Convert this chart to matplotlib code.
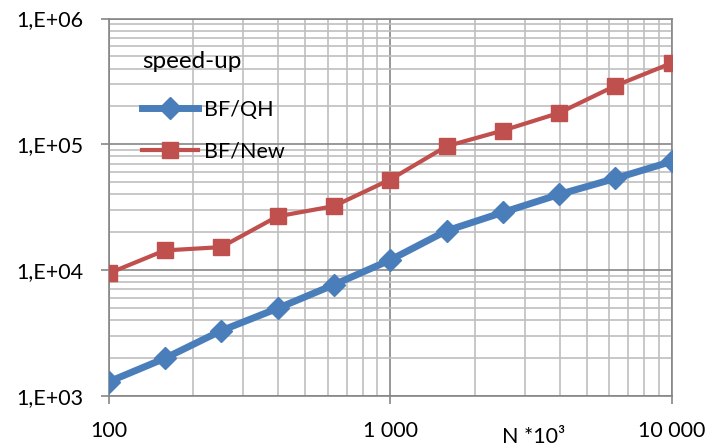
import numpy as np
import matplotlib
matplotlib.use('Agg')
import matplotlib.pyplot as plt
import matplotlib.ticker as ticker

plt.rcParams['font.family'] = ['Lato', 'DejaVu Sans']

# data (N in thousands, speed-up)
n_vals = [100, 158, 251, 398, 631, 1000, 1585, 2512, 3981, 6310, 10000]
bf_qh = [1290, 1980, 3290, 4950, 7630, 12000, 20500, 28700, 39900, 53500, 73000]
bf_new = [9400, 14300, 15200, 26700, 32200, 52400, 96400, 128500, 177500, 292000, 442500]

xtick_vals = [100, 1000, 10000]
xtick_labels = ['100', '1 000', '10 000']
ytick_vals = [1e3, 1e4, 1e5, 1e6]
ytick_labels = ['1,E+03', '1,E+04', '1,E+05', '1,E+06']

blue = '#4A7EBB'
red = '#C0504D'
major_c = '#868686'
minor_c = '#BFBFBF'

fig = plt.figure(figsize=(7.2, 4.48), dpi=100)
ax = fig.add_axes([0.151, 0.1167, 0.782, 0.842])

ax.plot(n_vals, bf_qh, color=blue, lw=5, marker='D', ms=11, mec=blue, mfc=blue,
        label='BF/QH', zorder=4)
ax.plot(n_vals, bf_new, color=red, lw=3, marker='s', ms=11, mec=red, mfc=red,
        label='BF/New', zorder=5)

ax.set_xscale('log')
ax.set_yscale('log')
ax.set_xlim(100, 10000)
ax.set_ylim(1e3, 1e6)

ax.xaxis.set_major_locator(ticker.FixedLocator(xtick_vals))
ax.xaxis.set_major_formatter(ticker.FixedFormatter(xtick_labels))
ax.yaxis.set_major_locator(ticker.FixedLocator(ytick_vals))
ax.yaxis.set_major_formatter(ticker.FixedFormatter(ytick_labels))
ax.xaxis.set_minor_locator(ticker.LogLocator(base=10, subs=np.arange(2, 10)))
ax.yaxis.set_minor_locator(ticker.LogLocator(base=10, subs=np.arange(2, 10)))
ax.xaxis.set_minor_formatter(ticker.NullFormatter())
ax.yaxis.set_minor_formatter(ticker.NullFormatter())

ax.grid(which='minor', color=minor_c, lw=1.2, zorder=1)
ax.grid(which='major', color=major_c, lw=1.2, zorder=2)
ax.set_axisbelow(True)

for s in ax.spines.values():
    s.set_color(major_c)
    s.set_linewidth(1.2)

ax.tick_params(which='major', direction='out', length=6, width=1.2, color=major_c,
               labelsize=15.5, labelcolor='black')
ax.tick_params(axis='x', which='major', pad=12)
ax.tick_params(axis='y', which='major', pad=12)
ax.tick_params(which='minor', length=0)

fig.text(534/720, 1 - 437/448, 'N *10\u00b3', fontsize=15.5, ha='center', va='center')

leg = ax.legend(title='speed-up', loc='upper left', bbox_to_anchor=(131/720, 1 - 40/448),
                bbox_transform=fig.transFigure, frameon=False, fontsize=15.5,
                title_fontsize=17.5, numpoints=1, handlelength=2.6, handletextpad=0.3,
                labelspacing=1.0, borderpad=0, alignment='left')
leg._legend_box.sep = 20

fig.savefig('out.png', dpi=100)
